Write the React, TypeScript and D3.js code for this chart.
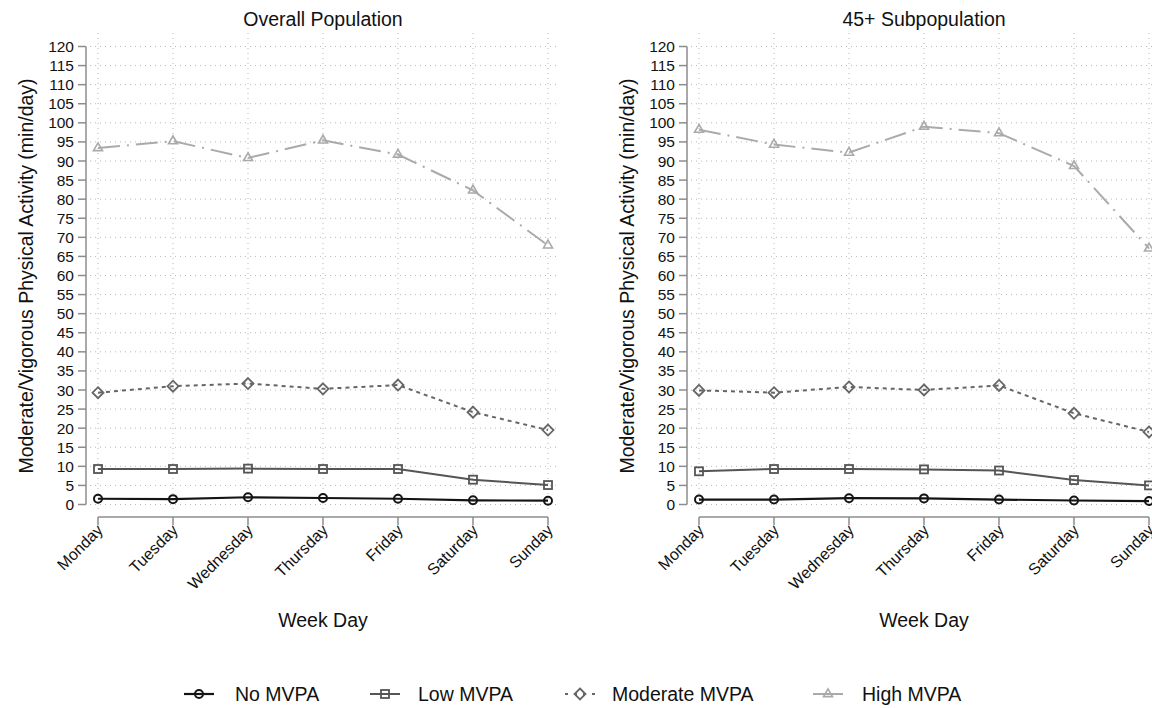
import React from "react";
import * as d3 from "d3";

const days = ["Monday", "Tuesday", "Wednesday", "Thursday", "Friday", "Saturday", "Sunday"];
const yTicks = d3.range(0, 121, 5);

const overallNo = [1.5, 1.4, 1.9, 1.7, 1.5, 1.1, 1.0];
const overallLow = [9.3, 9.3, 9.4, 9.3, 9.3, 6.5, 5.1];
const overallModerate = [29.3, 31.0, 31.7, 30.3, 31.3, 24.2, 19.5];
const overallHigh = [93.4, 95.2, 90.8, 95.4, 91.7, 82.3, 67.9];

const subNo = [1.3, 1.3, 1.65, 1.6, 1.3, 1.05, 0.9];
const subLow = [8.7, 9.3, 9.3, 9.2, 8.9, 6.4, 5.0];
const subModerate = [29.9, 29.3, 30.8, 30.0, 31.2, 23.9, 19.0];
const subHigh = [98.2, 94.3, 92.2, 99.0, 97.3, 88.7, 67.1];

const seriesNames = ["No MVPA", "Low MVPA", "Moderate MVPA", "High MVPA"];

const FONT = "'Liberation Sans', Arial, Helvetica, sans-serif";

type Style = { color: string; dash: string; width: number; marker: string };
const styles: Style[] = [
  { color: "#141414", dash: "none", width: 2.2, marker: "circle" },
  { color: "#555555", dash: "none", width: 2, marker: "square" },
  { color: "#666666", dash: "4,4", width: 2, marker: "diamond" },
  { color: "#aaaaaa", dash: "22,7,2,7", width: 2, marker: "triangle" },
];

function Marker({ type, x, y, color }: { type: string; x: number; y: number; color: string }) {
  if (type === "circle") return <circle cx={x} cy={y} r={4} fill="none" stroke={color} strokeWidth={2} />;
  if (type === "square") return <rect x={x - 4} y={y - 4} width={8} height={8} fill="none" stroke={color} strokeWidth={1.8} />;
  if (type === "diamond")
    return <path d={`M${x},${y - 5.5}L${x + 5.5},${y}L${x},${y + 5.5}L${x - 5.5},${y}Z`} fill="none" stroke={color} strokeWidth={1.8} />;
  const s = 9;
  const h = (s * Math.sqrt(3)) / 2;
  return (
    <path
      d={`M${x},${y - (2 * h) / 3}L${x + s / 2},${y + h / 3}L${x - s / 2},${y + h / 3}Z`}
      fill="none"
      stroke={color}
      strokeWidth={1.6}
    />
  );
}

function Panel({ title, dx, data }: { title: string; dx: number; data: number[][] }) {
  const x = d3.scalePoint<string>().domain(days).range([98 + dx, 548 + dx]);
  const y = d3.scaleLinear().domain([0, 120]).range([504.5, 46.5]);
  const axisX = 86 + dx;
  const line = d3
    .line<number>()
    .x((_, i) => x(days[i]) as number)
    .y((d) => y(d));
  const gridL = 90 + dx;
  const gridR = 557 + dx;
  return (
    <g>
      <text x={323 + dx} y={26} textAnchor="middle" fontSize={19.5} fontFamily={FONT} fill="#111">
        {title}
      </text>
      {/* grid */}
      {yTicks.map((t) => (
        <line key={"h" + t} x1={gridL} x2={gridR} y1={y(t)} y2={y(t)} stroke="#b8b8b8" strokeWidth={1} strokeDasharray="1,4" />
      ))}
      {days.map((d) => (
        <line key={"v" + d} x1={x(d)} x2={x(d)} y1={33} y2={512} stroke="#b8b8b8" strokeWidth={1} strokeDasharray="1,4" />
      ))}
      {/* y axis */}
      <line x1={axisX} x2={axisX} y1={y(120)} y2={y(0)} stroke="#8c8c8c" strokeWidth={1.5} />
      {yTicks.map((t) => (
        <g key={"yt" + t}>
          <line x1={axisX - 8} x2={axisX} y1={y(t)} y2={y(t)} stroke="#8c8c8c" strokeWidth={1.5} />
          <text x={axisX - 12} y={y(t)} dy="0.36em" textAnchor="end" fontSize={15.5} fontFamily={FONT} fill="#111">
            {t}
          </text>
        </g>
      ))}
      <text
        transform={`translate(${26 + dx},${276}) rotate(-90)`}
        textAnchor="middle"
        dy="0.35em"
        fontSize={19.5}
        fontFamily={FONT}
        fill="#111"
      >
        Moderate/Vigorous Physical Activity (min/day)
      </text>
      {/* x axis */}
      <line x1={x(days[0])} x2={x(days[6])} y1={517} y2={517} stroke="#8c8c8c" strokeWidth={1.5} />
      {days.map((d) => (
        <g key={"xt" + d}>
          <line x1={x(d)} x2={x(d)} y1={517} y2={525} stroke="#8c8c8c" strokeWidth={1.5} />
          <text
            transform={`translate(${(x(d) as number) + 6},${531}) rotate(-45)`}
            textAnchor="end"
            fontSize={16}
            fontFamily={FONT}
            fill="#111"
          >
            {d}
          </text>
        </g>
      ))}
      <text x={323 + dx} y={627} textAnchor="middle" fontSize={19.5} fontFamily={FONT} fill="#111">
        Week Day
      </text>
      {/* series, drawn from back to front */}
      {[3, 2, 1, 0].map((si) => (
        <g key={"s" + si}>
          <path
            d={line(data[si]) as string}
            fill="none"
            stroke={styles[si].color}
            strokeWidth={styles[si].width}
            strokeDasharray={styles[si].dash}
          />
          {data[si].map((v, i) => (
            <Marker key={i} type={styles[si].marker} x={x(days[i]) as number} y={y(v)} color={styles[si].color} />
          ))}
        </g>
      ))}
    </g>
  );
}

const legendSymbolX = [199, 385, 580, 828];
const legendTextX = [235, 418, 612, 862];

export default function App() {
  return (
    <svg
      width={1152}
      height={708}
      style={{ position: "absolute", left: 0, top: 0, background: "#fff" }}
      xmlns="http://www.w3.org/2000/svg"
    >
      <rect width={1152} height={708} fill="#fff" />
      <Panel title="Overall Population" dx={0} data={[overallNo, overallLow, overallModerate, overallHigh]} />
      <Panel title="45+ Subpopulation" dx={601} data={[subNo, subLow, subModerate, subHigh]} />
      {seriesNames.map((n, i) => (
        <g key={n}>
          <line
            x1={legendSymbolX[i] - 15}
            x2={legendSymbolX[i] + 15}
            y1={694}
            y2={694}
            stroke={styles[i].color}
            strokeWidth={styles[i].width}
            strokeDasharray={i === 2 ? "3,6" : "none"}
          />
          <Marker type={styles[i].marker} x={legendSymbolX[i]} y={694} color={styles[i].color} />
          <text x={legendTextX[i]} y={694} dy="0.36em" fontSize={19.5} fontFamily={FONT} fill="#111">
            {n}
          </text>
        </g>
      ))}
    </svg>
  );
}
